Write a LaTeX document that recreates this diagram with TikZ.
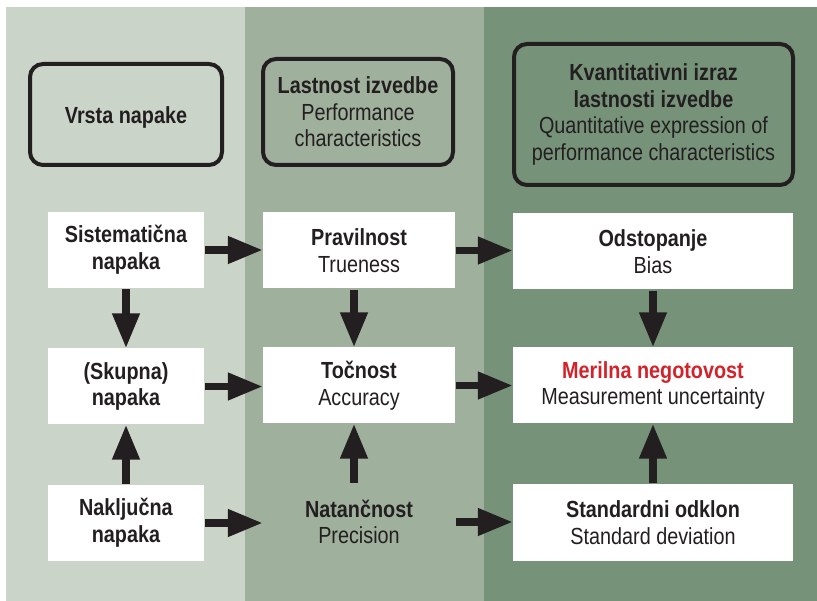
\documentclass[tikz,border=0pt]{standalone}
\usepackage{fontspec}
\setmainfont{Liberation Sans}[FakeStretch=0.85]
\usetikzlibrary{arrows.meta}
\definecolor{ink}{HTML}{231F20}
\definecolor{colA}{HTML}{CAD4C9}
\definecolor{colB}{HTML}{9FB09D}
\definecolor{colC}{HTML}{76937A}
\definecolor{redt}{HTML}{D2232A}
\begin{document}
\begin{tikzpicture}[x=1pt,y=-1pt,
 every node/.style={font=\fontsize{23.3}{26.6}\selectfont, text=ink, align=center},
 wbox/.style={fill=white, inner sep=0pt, minimum width=#1, minimum height=76pt},
 ghost/.style={inner sep=0pt, minimum width=#1, minimum height=76pt},
 hbox/.style={draw=ink, line width=4pt, rounded corners=13pt, inner sep=0pt},
 arr/.style={draw=ink, line width=7.5pt, -{Triangle[length=35pt,width=26pt]}, shorten <=1pt}
]
\useasboundingbox (0,0) rectangle (817,601);
\fill[colA] (6,7) rectangle (245,601);
\fill[colB] (245,7) rectangle (484,601);
\fill[colC] (484,7) rectangle (817,601);

% headers
\node[hbox, minimum width=192pt, minimum height=101pt] (h1) at (126,114.5) {\raisebox{-3pt}[\height][\depth]{\textbf{Vrsta napake}}};
\node[hbox, minimum width=190pt, minimum height=106pt] (h2) at (358,112) {\textbf{Lastnost izvedbe}\\Performance\\characteristics};
\node[hbox, minimum width=279pt, minimum height=141pt] (h3) at (653.5,114.5) {\textbf{Kvantitativni izraz}\\\textbf{lastnosti izvedbe}\\Quantitative expression of\\performance characteristics};

% column 1
\node[wbox=156pt] (s1) at (126,250) {\textbf{Sistematična}\\\textbf{napaka}};
\node[wbox=156pt] (s2) at (126,386.5) {\textbf{(Skupna)}\\\textbf{napaka}};
\node[wbox=156pt] (s3) at (126,523) {\textbf{Naključna}\\\textbf{napaka}};

% column 2
\node[wbox=192pt] (p1) at (359,250.5) {\textbf{Pravilnost}\\Trueness};
\node[wbox=192pt] (p2) at (359,385.5) {\textbf{Točnost}\\Accuracy};
\node[ghost=192pt] (p3) at (359,522) {\textbf{Natančnost}\\Precision};

% column 3
\node[wbox=280pt] (q1) at (653,251.5) {\textbf{Odstopanje}\\Bias};
\node[wbox=280pt] (q2) at (653,385.5) {{\color{redt}\textbf{Merilna negotovost}}\\Measurement uncertainty};
\node[wbox=280pt] (q3) at (653,522.5) {\textbf{Standardni odklon}\\Standard deviation};

% horizontal arrows
\draw[arr] (s1.east) -- (s1.east -| p1.west);
\draw[arr] (s2.east) -- (s2.east -| p2.west);
\draw[arr] (s3.east) -- (s3.east -| p3.west);
\draw[arr] (p1.east) -- (p1.east -| q1.west);
\draw[arr] (p2.east) -- (p2.east -| q2.west);
\draw[arr] (p3.east) -- (p3.east -| q3.west);

% vertical arrows
\draw[arr] (s1.south) -- (s2.north);
\draw[arr] (s3.north) -- (s2.south);
\draw[arr] ([xshift=-5pt]p1.south) -- ([xshift=-5pt]p2.north);
\draw[arr] ([xshift=-5pt]p3.north) -- ([xshift=-5pt]p2.south);
\draw[arr] (q1.south) -- (q2.north);
\draw[arr] (q3.north) -- (q2.south);
\end{tikzpicture}
\end{document}
